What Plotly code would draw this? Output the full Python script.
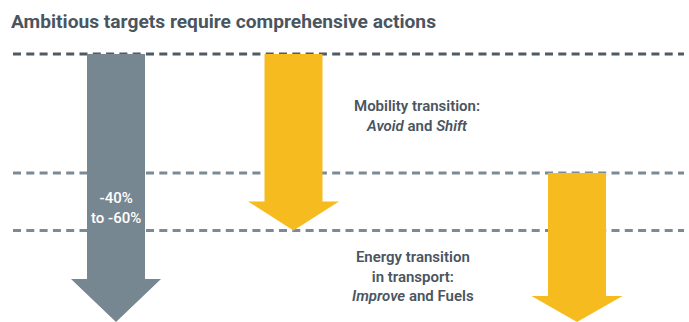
import plotly.graph_objects as go

# ---- data ----
title_text = "Ambitious targets require comprehensive actions"
level_names = ["Today", "After Avoid & Shift", "After Improve & Fuels"]
level_values = [54, 173, 230.5]          # dashed reference levels (vertical scale, downward)
arrow_names = ["Total reduction", "Avoid and Shift", "Improve and Fuels"]
arrow_center = [116, 293.5, 577]
arrow_start = [54, 54, 173]
arrow_end = [322, 230.5, 322]
arrow_label = ["-40%<br>to -60%", "", ""]
note_texts = ["Mobility transition:<br><i>Avoid</i> and <i>Shift</i>",
              "Energy transition<br>in transport:<br><i>Improve</i> and Fuels"]
note_x = [417, 413]
note_y = [116, 276]

# ---- style ----
W, H = 689, 322
FONT = "Roboto, Arial, sans-serif"
arrow_colors = ["#778792", "#F6BC1F", "#F6BC1F"]
shaft_half = [29, 29, 29]
head_half = [45, 45.5, 45.5]
head_len = [43, 29, 26]
line_colors = ["#4E5A64", "#7C8A94", "#7C8A94"]
text_color = "#4A5560"

fig = go.Figure()

for lv, lc in zip(level_values, line_colors):
    fig.add_trace(go.Scatter(x=[13, 684], y=[lv, lv], mode="lines",
                             line=dict(color=lc, width=3, dash="8px,5.3px"),
                             hoverinfo="skip", showlegend=False))

for i in range(len(arrow_center)):
    cx, y0, y1 = arrow_center[i], arrow_start[i], arrow_end[i]
    sw, hw, hl = shaft_half[i], head_half[i], head_len[i]
    xs = [cx - sw, cx + sw, cx + sw, cx + hw, cx, cx - hw, cx - sw, cx - sw]
    ys = [y0, y0, y1 - hl, y1 - hl, y1, y1 - hl, y1 - hl, y0]
    fig.add_trace(go.Scatter(x=xs, y=ys, mode="lines", fill="toself",
                             fillcolor=arrow_colors[i], line=dict(width=0, color=arrow_colors[i]),
                             name=arrow_names[i], hoverinfo="skip", showlegend=False))
    if arrow_label[i]:
        fig.add_annotation(x=cx, y=208, text=arrow_label[i], showarrow=False,
                           font=dict(family=FONT, size=15, color="white", weight=500),
                           align="center")

for t, x, y in zip(note_texts, note_x, note_y):
    fig.add_annotation(x=x, y=y, text=t, showarrow=False, align="center",
                       font=dict(family=FONT, size=15, color=text_color, weight=600))

fig.add_annotation(x=9, y=8, xref="x", yref="y", text=title_text,
                   showarrow=False, xanchor="left", yanchor="top",
                   font=dict(family=FONT, size=19.2, color=text_color, weight=700))

fig.update_layout(width=W, height=H, margin=dict(l=0, r=0, t=0, b=0),
                  paper_bgcolor="white", plot_bgcolor="white",
                  xaxis=dict(range=[0, W], visible=False, fixedrange=True),
                  yaxis=dict(range=[H, 0], visible=False, fixedrange=True))

fig.write_html("out.html")
